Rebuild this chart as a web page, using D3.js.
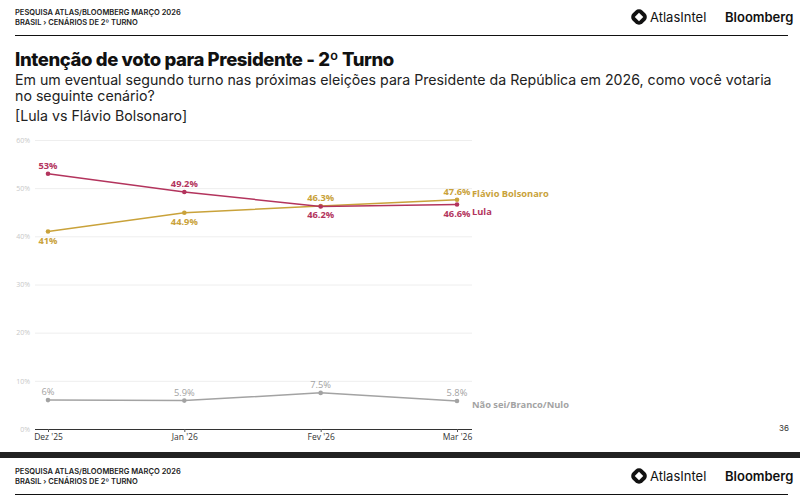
<!DOCTYPE html>
<meta charset="utf-8">
<style>
  body { margin: 0; background: #fff; }
  svg text { font-family: Inter, "Noto Sans", sans-serif; }
  .lbl { font-family: "Open Sans", sans-serif; font-weight: 700; font-size: 9.3px; }
  .tick text { font-family: "Open Sans", sans-serif; }
</style>
<script src="https://d3js.org/d3.v7.min.js"></script>
<div id="chart"></div>
<script>
// data
var months = ["Dez '25", "Jan '26", "Fev '26", "Mar '26"];
var lula = [53, 49.2, 46.2, 46.6];
var flavio = [41, 44.9, 46.3, 47.6];
var naoSei = [6, 5.9, 7.5, 5.8];
var yTicks = [0, 10, 20, 30, 40, 50, 60];

var series = [
  {name: "Flávio Bolsonaro", values: flavio, color: "#c9a23a", labelPos: ["below", "below", "above", "above"], nameDy: -6},
  {name: "Lula", values: lula, color: "#b3345d", labelPos: ["above", "above", "below", "below"], nameDy: 7},
  {name: "Não sei/Branco/Nulo", values: naoSei, color: "#a3a3a3", labelPos: ["above", "above", "above", "above"], nameDy: 4}
];

var W = 800, H = 500;
var svg = d3.select("#chart").append("svg")
  .attr("width", W).attr("height", H);

// header block (drawn twice, top slide + the next slide peeking in)
function header(y0) {
  var g = svg.append("g").attr("transform", "translate(0," + y0 + ")");
  g.append("text").attr("x", 15).attr("y", 15)
    .style("font-size", "7.5px").style("font-weight", 600).style("fill", "#222")
    .text("PESQUISA ATLAS/BLOOMBERG MARÇO 2026");
  g.append("text").attr("x", 15).attr("y", 25)
    .style("font-size", "7.5px").style("font-weight", 600).style("fill", "#222")
    .text("BRASIL › CENÁRIOS DE 2º TURNO");
  g.append("line").attr("x1", 15).attr("x2", 788).attr("y1", 35.5).attr("y2", 35.5)
    .style("stroke", "#111").style("stroke-width", 1);
  // AtlasIntel mark
  g.append("rect").attr("x", 632).attr("y", 10).attr("width", 14).attr("height", 14)
    .attr("rx", 5).attr("transform", "rotate(45,639,17)").style("fill", "#111");
  g.append("rect").attr("x", 636).attr("y", 14).attr("width", 6).attr("height", 6)
    .attr("transform", "rotate(45,639,17)").style("fill", "#fff");
  g.append("text").attr("x", 650).attr("y", 22)
    .style("font-size", "13px").style("fill", "#111").text("AtlasIntel");
  g.append("text").attr("x", 725).attr("y", 22)
    .style("font-size", "13px").style("font-weight", 600).style("fill", "#111").text("Bloomberg");
}
header(0);

svg.append("text").attr("x", 15).attr("y", 66)
  .style("font-size", "18.5px").style("font-weight", 800).style("fill", "#111")
  .style("letter-spacing", "-0.4px")
  .text("Intenção de voto para Presidente - 2º Turno");
svg.append("text").attr("x", 15).attr("y", 85)
  .style("font-size", "14.2px").style("fill", "#222")
  .text("Em um eventual segundo turno nas próximas eleições para Presidente da República em 2026, como você votaria");
svg.append("text").attr("x", 15).attr("y", 101)
  .style("font-size", "14.2px").style("fill", "#222")
  .text("no seguinte cenário?");
svg.append("text").attr("x", 15).attr("y", 121)
  .style("font-size", "14.2px").style("fill", "#222")
  .text("[Lula vs Flávio Bolsonaro]");

// chart area
var x = d3.scalePoint().domain(months).range([48, 457]);
var y = d3.scaleLinear().domain([0, 60]).range([429, 140]);

var grid = svg.append("g");
grid.selectAll("line").data(yTicks.filter(function(d) { return d > 0; })).enter()
  .append("line")
  .attr("x1", 35).attr("x2", 472)
  .attr("y1", function(d) { return y(d) + 0.5; })
  .attr("y2", function(d) { return y(d) + 0.5; })
  .style("stroke", "#eeeeee");

var yAxis = svg.append("g").attr("class", "axis")
  .attr("transform", "translate(33,0)")
  .call(d3.axisLeft(y).tickValues(yTicks).tickSize(0).tickFormat(function(d) { return d + "%"; }));
yAxis.select(".domain").remove();
yAxis.selectAll("text").style("font-size", "7px").style("fill", "#c8c8c8");

var xAxis = svg.append("g").attr("class", "axis")
  .attr("transform", "translate(0," + y(0) + ")")
  .call(d3.axisBottom(x).tickSize(3).tickSizeOuter(0));
xAxis.select(".domain").attr("d", "M35,0.5H472").style("stroke", "#333");
xAxis.selectAll(".tick line").style("stroke", "#555");
xAxis.selectAll("text").style("font-size", "8.5px").style("fill", "#333").attr("dy", "0.6em");

var line = d3.line()
  .x(function(d, i) { return x(months[i]); })
  .y(function(d) { return y(d); });

series.forEach(function(s) {
  var g = svg.append("g");
  g.append("path").datum(s.values)
    .attr("d", line)
    .style("fill", "none").style("stroke", s.color).style("stroke-width", 1.5);
  g.selectAll("circle").data(s.values).enter().append("circle")
    .attr("cx", function(d, i) { return x(months[i]); })
    .attr("cy", function(d) { return y(d); })
    .attr("r", 2.3).style("fill", s.color);
  g.selectAll("text.lbl").data(s.values).enter().append("text")
    .attr("class", "lbl")
    .attr("x", function(d, i) { return x(months[i]); })
    .attr("y", function(d, i) { return y(d) + (s.labelPos[i] === "above" ? -5 : 12); })
    .attr("text-anchor", "middle")
    .style("fill", s.color)
    .style("font-weight", s.name.indexOf("Não") === 0 ? 400 : 700)
    .text(function(d) { return d + "%"; });
  var last = s.values[s.values.length - 1];
  g.append("text").attr("class", "lbl")
    .attr("x", 472).attr("y", y(last) + s.nameDy)
    .attr("dy", "0.35em")
    .style("fill", s.color)
    .text(s.name);
});

// page number
svg.append("text").attr("x", 789).attr("y", 431).attr("text-anchor", "end")
  .style("font-size", "8px").style("fill", "#333").text("36");

// dark divider between slides, then next slide header
svg.append("rect").attr("x", 0).attr("y", 452).attr("width", W).attr("height", 6).style("fill", "#222");
header(459);
</script>
